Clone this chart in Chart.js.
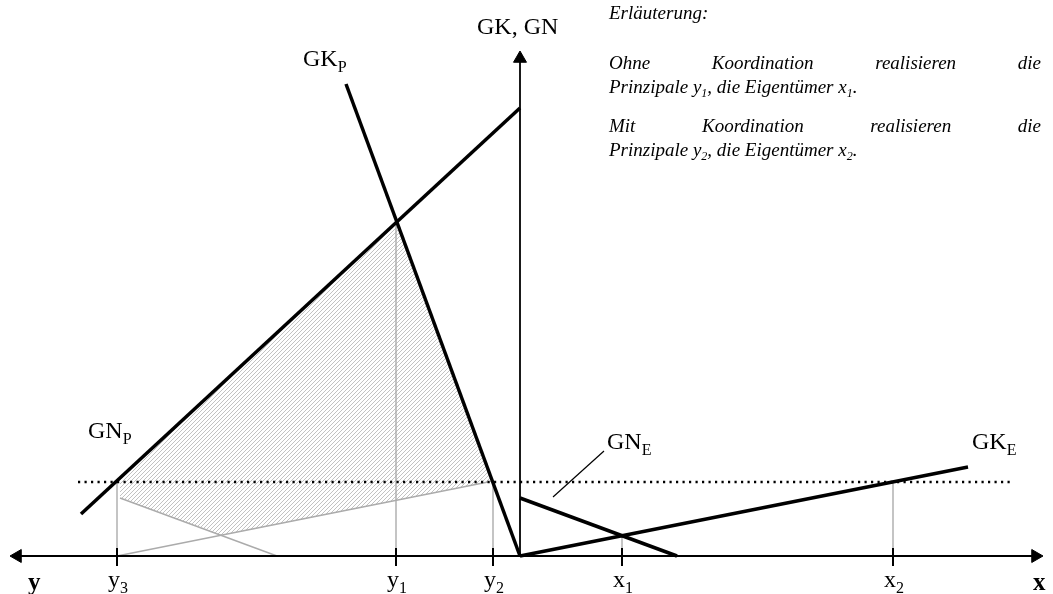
<!DOCTYPE html>
<html>
<head>
<meta charset="utf-8">
<script src="https://cdn.jsdelivr.net/npm/chart.js@4.4.1/dist/chart.umd.min.js"></script>
<style>
  html, body { margin: 0; padding: 0; background: #fff; }
</style>
</head>
<body>
<canvas id="diagram" width="1053" height="594"></canvas>
<script>
// diagram values (origin = crossing of the two axes)
const gkP = [[-17.4, 47.2], [0, 0]];
const gnP = [[-43.9, 4.2], [0, 44.8]];
const gkE = [[0, 0], [44.8, 8.9]];
const gnE = [[0, 5.8], [15.7, 0]];
const gkEShifted = [[-40.3, 0], [-3.2, 7.4]];
const gnEShifted = [[-40.0, 5.8], [-24.3, 0]];
const hatchArea = [[-40.4, 7.4], [-12.4, 33.4], [-2.8, 7.4], [-3.2, 7.4], [-29.9, 2.1], [-40.0, 5.8], [-40.0, 7.4], [-40.4, 7.4]];
const dottedLevel = 7.4;
const dottedRange = [-44.2, 49.1];

const tickNames = ["y", "y", "y", "x", "x"];
const tickSubs = ["3", "1", "2", "1", "2"];
const tickValues = [-40.3, -12.4, -2.7, 10.2, 37.3];
const tickHeights = [7.4, 33.4, 7.4, 2.0, 7.4];

const curveNames = ["GK", "GN", "GN", "GK"];
const curveSubs = ["P", "P", "E", "E"];
const curveAnchors = [[-21.7, 49.0], [-43.2, 11.8], [8.7, 10.7], [45.2, 10.7]];
const gnELeader = [[3.3, 5.9], [8.4, 10.5]];

const noteLines = [
  [["Erläuterung:"]],
  [["Ohne Koordination realisieren die"]],
  [["Prinzipale y"], ["1", 1], [", die Eigentümer x"], ["1", 1], ["."]],
  [["Mit Koordination realisieren die"]],
  [["Prinzipale y"], ["2", 1], [", die Eigentümer x"], ["2", 1], ["."]],
];
const noteJustify = [false, true, false, true, false];
const noteBaselines = [53.7, 48.7, 46.3, 42.4, 40.0];
const noteLeft = 8.9;
const noteRight = 52.1;

const SERIF = '"Liberation Serif", "Times New Roman", serif';

function makeHatch() {
  const c = document.createElement("canvas");
  c.width = 4;
  c.height = 4;
  const g = c.getContext("2d");
  g.strokeStyle = "#c2c2c2";
  g.lineWidth = 1;
  g.beginPath();
  g.moveTo(-1, 5); g.lineTo(5, -1);
  g.moveTo(-1, 1); g.lineTo(1, -1);
  g.moveTo(3, 5); g.lineTo(5, 3);
  g.stroke();
  return g.createPattern(c, "repeat");
}

function seg(points, color, width, extra) {
  return Object.assign({
    data: points.map(([x, y]) => ({ x, y })),
    showLine: true,
    borderColor: color,
    borderWidth: width,
    pointRadius: 0,
    fill: false,
    tension: 0,
  }, extra || {});
}

const datasets = [];
// axes with arrow heads
datasets.push(seg([[-50.25, 0], [51.55, 0]], "#000", 1.8, {
  pointRadius: 7.5, pointStyle: "triangle", rotation: [-90, 90],
  pointBackgroundColor: "#000", pointBorderColor: "#000", pointBorderWidth: 1,
}));
datasets.push(seg([[0, 0], [0, 49.75]], "#000", 1.8, {
  pointRadius: [0, 7.5], pointStyle: "triangle", rotation: 0,
  pointBackgroundColor: "#000", pointBorderColor: "#000", pointBorderWidth: 1,
}));
// main curves
[gkP, gnP, gkE, gnE].forEach((p) => datasets.push(seg(p, "#000", 3.5)));
datasets.push(seg(gnELeader, "#000", 1.2));
// ticks on the horizontal axis
tickValues.forEach((v) => datasets.push(seg([[v, -1.0], [v, 0.8]], "#000", 2)));
// dotted line
datasets.push(seg([[dottedRange[0], dottedLevel], [dottedRange[1], dottedLevel]], "#000", 2.4, {
  borderDash: [2.2, 4.3],
}));
// gray guide lines
tickValues.forEach((v, i) => datasets.push(seg([[v, 0], [v, tickHeights[i]]], "#ababab", 1.4)));
datasets.push(seg(gkEShifted, "#ababab", 1.4));
datasets.push(seg(gnEShifted, "#ababab", 1.4));
// hatched area
datasets.push(seg(hatchArea, "rgba(0,0,0,0)", 0, { fill: "shape", backgroundColor: makeHatch() }));

function drawSub(ctx, text, sub, x, y, size, subSize, weight) {
  ctx.font = `${weight || ""} ${size}px ${SERIF}`;
  ctx.fillText(text, x, y);
  if (sub) {
    const w = ctx.measureText(text).width;
    ctx.font = `${subSize}px ${SERIF}`;
    ctx.fillText(sub, x + w, y + size * 0.27);
  }
}

const textPlugin = {
  id: "diagramText",
  afterDatasetsDraw(chart) {
    const { ctx } = chart;
    const sx = chart.scales.x;
    const sy = chart.scales.y;
    const px = (v) => sx.getPixelForValue(v);
    const py = (v) => sy.getPixelForValue(v);
    ctx.save();
    ctx.fillStyle = "#000";
    ctx.textBaseline = "alphabetic";
    ctx.textAlign = "left";

    drawSub(ctx, "GK, GN", "", px(-4.3), py(52.2), 24, 16);
    curveNames.forEach((n, i) => {
      drawSub(ctx, n, curveSubs[i], px(curveAnchors[i][0]), py(curveAnchors[i][1]), 24, 16);
    });
    drawSub(ctx, "y", "", px(-49.2), py(-3.4), 25, 16, "bold");
    drawSub(ctx, "x", "", px(51.3), py(-3.4), 25, 16, "bold");
    tickNames.forEach((n, i) => {
      drawSub(ctx, n, tickSubs[i], px(tickValues[i]) - 9, py(-3.1), 24, 16);
    });

    // explanation block
    const left = px(noteLeft);
    const right = px(noteRight);
    noteLines.forEach((parts, i) => {
      const base = py(noteBaselines[i]);
      if (noteJustify[i]) {
        ctx.font = `italic 19px ${SERIF}`;
        const words = parts[0][0].split(" ");
        const widths = words.map((w) => ctx.measureText(w).width);
        const total = widths.reduce((a, b) => a + b, 0);
        const gap = (right - left - total) / (words.length - 1);
        let cx = left;
        words.forEach((w, k) => {
          ctx.fillText(w, cx, base);
          cx += widths[k] + gap;
        });
      } else {
        let cx = left;
        parts.forEach(([t, isSub]) => {
          ctx.font = isSub ? `italic 12px ${SERIF}` : `italic 19px ${SERIF}`;
          ctx.fillText(t, cx, isSub ? base + 4 : base);
          cx += ctx.measureText(t).width;
        });
      }
    });
    ctx.restore();
  },
};

new Chart(document.getElementById("diagram"), {
  type: "scatter",
  data: { datasets },
  options: {
    responsive: false,
    animation: false,
    events: [],
    layout: { padding: 0, autoPadding: false },
    plugins: { legend: { display: false }, tooltip: { enabled: false } },
    scales: {
      x: { type: "linear", min: -52, max: 53.3, display: false },
      y: { type: "linear", min: -3.8, max: 55.6, display: false },
    },
  },
  plugins: [textPlugin],
});
</script>
</body>
</html>
